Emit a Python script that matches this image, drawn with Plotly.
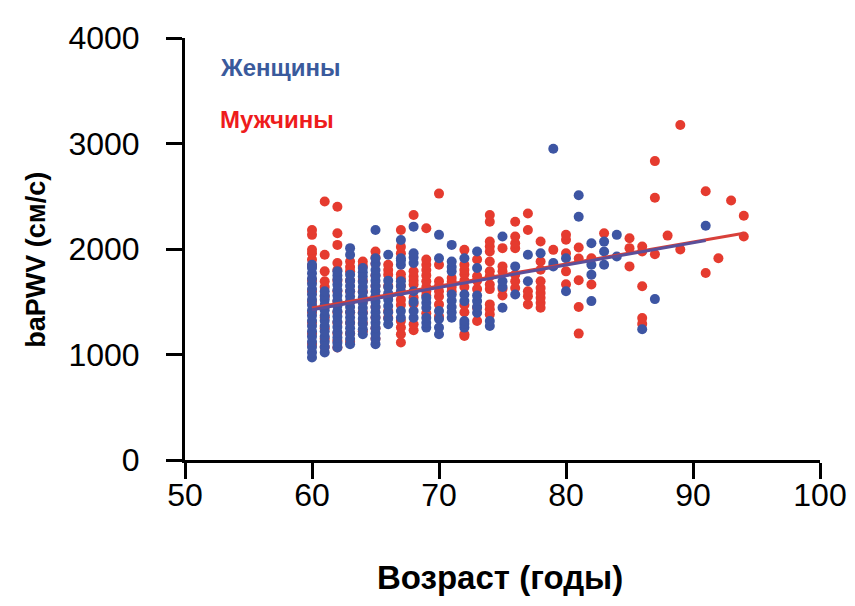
import plotly.graph_objects as go

# baPWV (cm/s) readings by age — women (blue)
women = {
    60: [972, 1020, 1070, 1120, 1170, 1220, 1270, 1320, 1370, 1420, 1470, 1520, 1570, 1620, 1670, 1720, 1770, 1820, 1851],
    61: [1020, 1070, 1120, 1170, 1220, 1270, 1320, 1370, 1420, 1470, 1520, 1560, 1600],
    62: [1066, 1110, 1160, 1210, 1260, 1310, 1360, 1410, 1460, 1510, 1560, 1610, 1660, 1710, 1750, 1788],
    63: [1098, 1150, 1200, 1250, 1300, 1350, 1400, 1450, 1500, 1550, 1600, 1650, 1700, 1757, 1945, 2008],
    64: [1192, 1240, 1290, 1340, 1390, 1440, 1490, 1540, 1590, 1640, 1690, 1740, 1780, 1820],
    65: [1098, 1150, 1200, 1250, 1300, 1350, 1400, 1450, 1500, 1550, 1600, 1650, 1700, 1750, 1800, 1860, 1913, 2180],
    66: [1286, 1340, 1400, 1460, 1520, 1580, 1640, 1700, 1945],
    67: [1349, 1412, 1600, 1650, 1694, 1851, 1890, 1913, 2086],
    68: [1349, 1412, 1500, 1600, 1867, 1920, 1960, 2212],
    69: [1255, 1300, 1349, 1443, 1490, 1537],
    70: [1192, 1255, 1336, 1412, 1913, 2134],
    71: [1349, 1400, 1450, 1510, 1569, 1788, 1830, 1882, 2039],
    72: [1255, 1290, 1318, 1506, 1569, 1913],
    73: [1396, 1450, 1506, 1560, 1820, 1976],
    74: [1270, 1318],
    75: [1443, 1640, 1694, 2118],
    76: [1569, 1835],
    77: [1694, 1945],
    78: [1960],
    79: [1835, 1867, 2950],
    80: [1600, 1913],
    81: [2306, 2510],
    82: [1506, 1757, 1851, 2055],
    83: [1851, 1976, 2070],
    84: [1929, 2134],
    86: [1240],
    87: [1525],
    91: [2220],
}

# baPWV (cm/s) readings by age — men (red)
men = {
    60: [1100, 1200, 1300, 1400, 1500, 1600, 1700, 1840, 1900, 1960, 1992, 2134, 2180],
    61: [1070, 1150, 1250, 1350, 1450, 1550, 1640, 1694, 1788, 1945, 2450],
    62: [1066, 1130, 1200, 1300, 1400, 1500, 1600, 1700, 1800, 1867, 2039, 2149, 2400],
    63: [1120, 1200, 1300, 1400, 1500, 1600, 1700, 1788, 1830, 1882],
    64: [1220, 1300, 1400, 1500, 1600, 1700, 1840, 1882],
    65: [1150, 1250, 1350, 1450, 1550, 1650, 1750, 1860, 1920, 1976],
    66: [1349, 1412, 1550, 1650, 1757, 1800, 1850],
    67: [1114, 1192, 1255, 1318, 1470, 1520, 1650, 1720, 1760, 1960, 2020, 2180],
    68: [1230, 1286, 1480, 1540, 1663, 1700, 1740, 1788, 2322],
    69: [1390, 1560, 1600, 1640, 1694, 1750, 1800, 1850, 1900, 2196],
    70: [1360, 1475, 1550, 1600, 1650, 1694, 1851, 2525],
    71: [1600, 1640, 1690, 1725],
    72: [1176, 1192, 1400, 1470, 1640, 1700, 1760, 1800, 1850, 1992],
    73: [1318, 1443, 1620, 1700, 1741, 1900],
    74: [1380, 1428, 1475, 1620, 1663, 1741, 1788, 1882, 1976, 2024, 2071, 2259, 2322],
    75: [1560, 1620, 1788, 1835, 2008],
    76: [1631, 1694, 1757, 2008, 2055, 2118, 2259],
    77: [1475, 1553, 1600, 2180, 2337],
    78: [1443, 1490, 1537, 1584, 1631, 1694, 1804, 1882, 2071],
    79: [1992],
    80: [1666, 1788, 1960, 2087, 2134],
    81: [1198, 1450, 1704, 1910, 2014],
    82: [1663, 1913],
    83: [2149],
    85: [1835, 2008, 2102],
    86: [1290, 1345, 1647, 1976, 2024],
    87: [1951, 2485, 2833],
    88: [2127],
    89: [1995, 3175],
    91: [1773, 2547],
    92: [1913],
    93: [2460],
    94: [2118, 2315],
}

# regression lines (age, baPWV)
women_trend_age = [60, 91]
women_trend_val = [1425, 2080]
men_trend_age = [60, 94]
men_trend_val = [1440, 2150]

x_ticks = [50, 60, 70, 80, 90, 100]
y_ticks = [0, 1000, 2000, 3000, 4000]

BLUE = "#3d55a3"
RED = "#e53b2f"
FONT = "Liberation Sans, Arial, sans-serif"


def flatten(d):
    xs, ys = [], []
    for age, vals in d.items():
        for v in vals:
            xs.append(age)
            ys.append(v)
    return xs, ys


mx, my = flatten(men)
wx, wy = flatten(women)

fig = go.Figure()
fig.add_trace(go.Scatter(x=mx, y=my, mode="markers", name="Мужчины",
                         marker=dict(color=RED, size=10, line=dict(width=0))))
fig.add_trace(go.Scatter(x=wx, y=wy, mode="markers", name="Женщины",
                         marker=dict(color=BLUE, size=10, line=dict(width=0))))
fig.add_trace(go.Scatter(x=men_trend_age, y=men_trend_val, mode="lines",
                         line=dict(color="#d8403a", width=3), showlegend=False))
fig.add_trace(go.Scatter(x=women_trend_age, y=women_trend_val, mode="lines",
                         line=dict(color="#5a4f9a", width=3), showlegend=False))

axis_font = dict(family=FONT, size=32, color="black")

fig.update_layout(
    width=855, height=606,
    margin=dict(l=177, r=43, t=27, b=154),
    paper_bgcolor="white", plot_bgcolor="white",
    showlegend=False,
    xaxis=dict(range=[50, 100], tickvals=x_ticks, ticktext=[str(v) for v in x_ticks],
               showline=True, linecolor="black", linewidth=3, ticks="outside",
               ticklen=16, tickwidth=3, tickcolor="black", showgrid=False,
               zeroline=False, tickfont=axis_font, ticklabelstandoff=-11),
    yaxis=dict(range=[0, 4000], tickvals=y_ticks, ticktext=[str(v) for v in y_ticks],
               showline=True, linecolor="black", linewidth=3, ticks="outside",
               ticklen=16, tickwidth=3, tickcolor="black", showgrid=False,
               zeroline=False, tickfont=axis_font, ticklabelstandoff=20),
    annotations=[
        dict(text="<b>Возраст (годы)</b>", xref="paper", yref="paper", x=0.496, y=-0.278,
             xanchor="center", yanchor="middle", showarrow=False,
             font=dict(family=FONT, size=33, color="black")),
        dict(text="<b>baPWV (см/с)</b>", xref="paper", yref="paper", x=-0.236, y=0.475,
             xanchor="center", yanchor="middle", textangle=-90, showarrow=False,
             font=dict(family=FONT, size=27, color="black")),
        dict(text="<b>Женщины</b>", xref="paper", yref="paper", x=0.052, y=0.929,
             xanchor="left", yanchor="middle", showarrow=False,
             font=dict(family=FONT, size=24, color="#3a5a9c")),
        dict(text="<b>Мужчины</b>", xref="paper", yref="paper", x=0.052, y=0.807,
             xanchor="left", yanchor="middle", showarrow=False,
             font=dict(family=FONT, size=24, color="#ee1c1c")),
    ],
)

fig.write_html("out.html")
